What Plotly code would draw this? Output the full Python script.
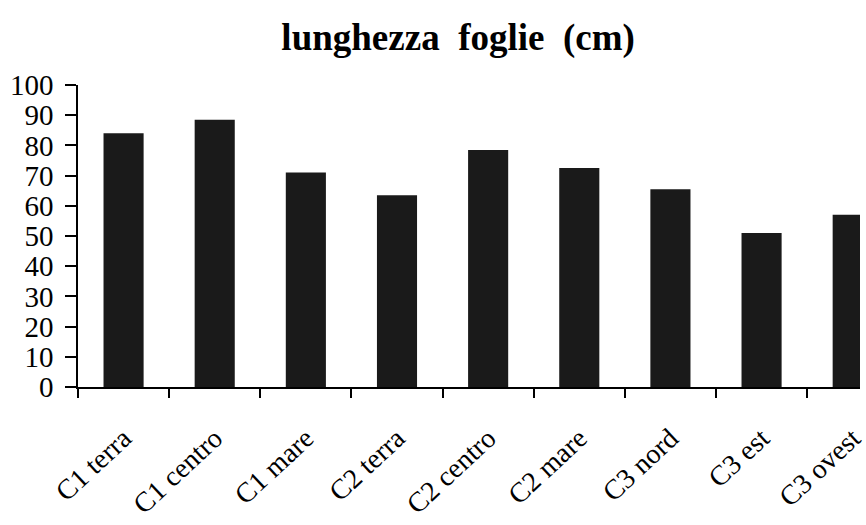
import plotly.graph_objects as go

categories = ["C1 terra", "C1 centro", "C1 mare", "C2 terra", "C2 centro",
              "C2 mare", "C3 nord", "C3 est", "C3 ovest"]
lunghezza = [84, 88.5, 71, 63.5, 78.5, 72.5, 65.5, 51, 57]
y_ticks = [0, 10, 20, 30, 40, 50, 60, 70, 80, 90, 100]

serif = "Liberation Serif, Times New Roman, serif"

fig = go.Figure(go.Bar(
    x=categories, y=lunghezza,
    marker=dict(color="#1a1a1a", line=dict(width=0)),
))

fig.update_layout(
    width=866, height=525,
    margin=dict(l=78, r=0, t=85, b=138),
    paper_bgcolor="white", plot_bgcolor="white",
    bargap=0.56,
    showlegend=False,
    title=dict(text="<b>lunghezza  foglie  (cm)</b>", x=0.529, xanchor="center",
               y=0.93, yanchor="middle",
               font=dict(family=serif, size=37, color="black")),
)
fig.update_xaxes(
    range=[-0.5, 8.08],
    tickangle=-43,
    tickfont=dict(family=serif, size=28, color="black"),
    ticks="outside", ticklen=9, tickwidth=1.5, tickcolor="black",
    tickson="boundaries",
    ticklabelstandoff=22,
    showline=True, linecolor="black", linewidth=1.5,
    showgrid=False, zeroline=False,
)
fig.update_yaxes(
    range=[0, 100],
    tickvals=y_ticks,
    tickfont=dict(family=serif, size=29, color="black"),
    ticks="outside", ticklen=11, tickwidth=1.5, tickcolor="black",
    ticklabelstandoff=6,
    showline=True, linecolor="black", linewidth=1.5,
    showgrid=False, zeroline=False,
)

fig.write_html("out.html")
